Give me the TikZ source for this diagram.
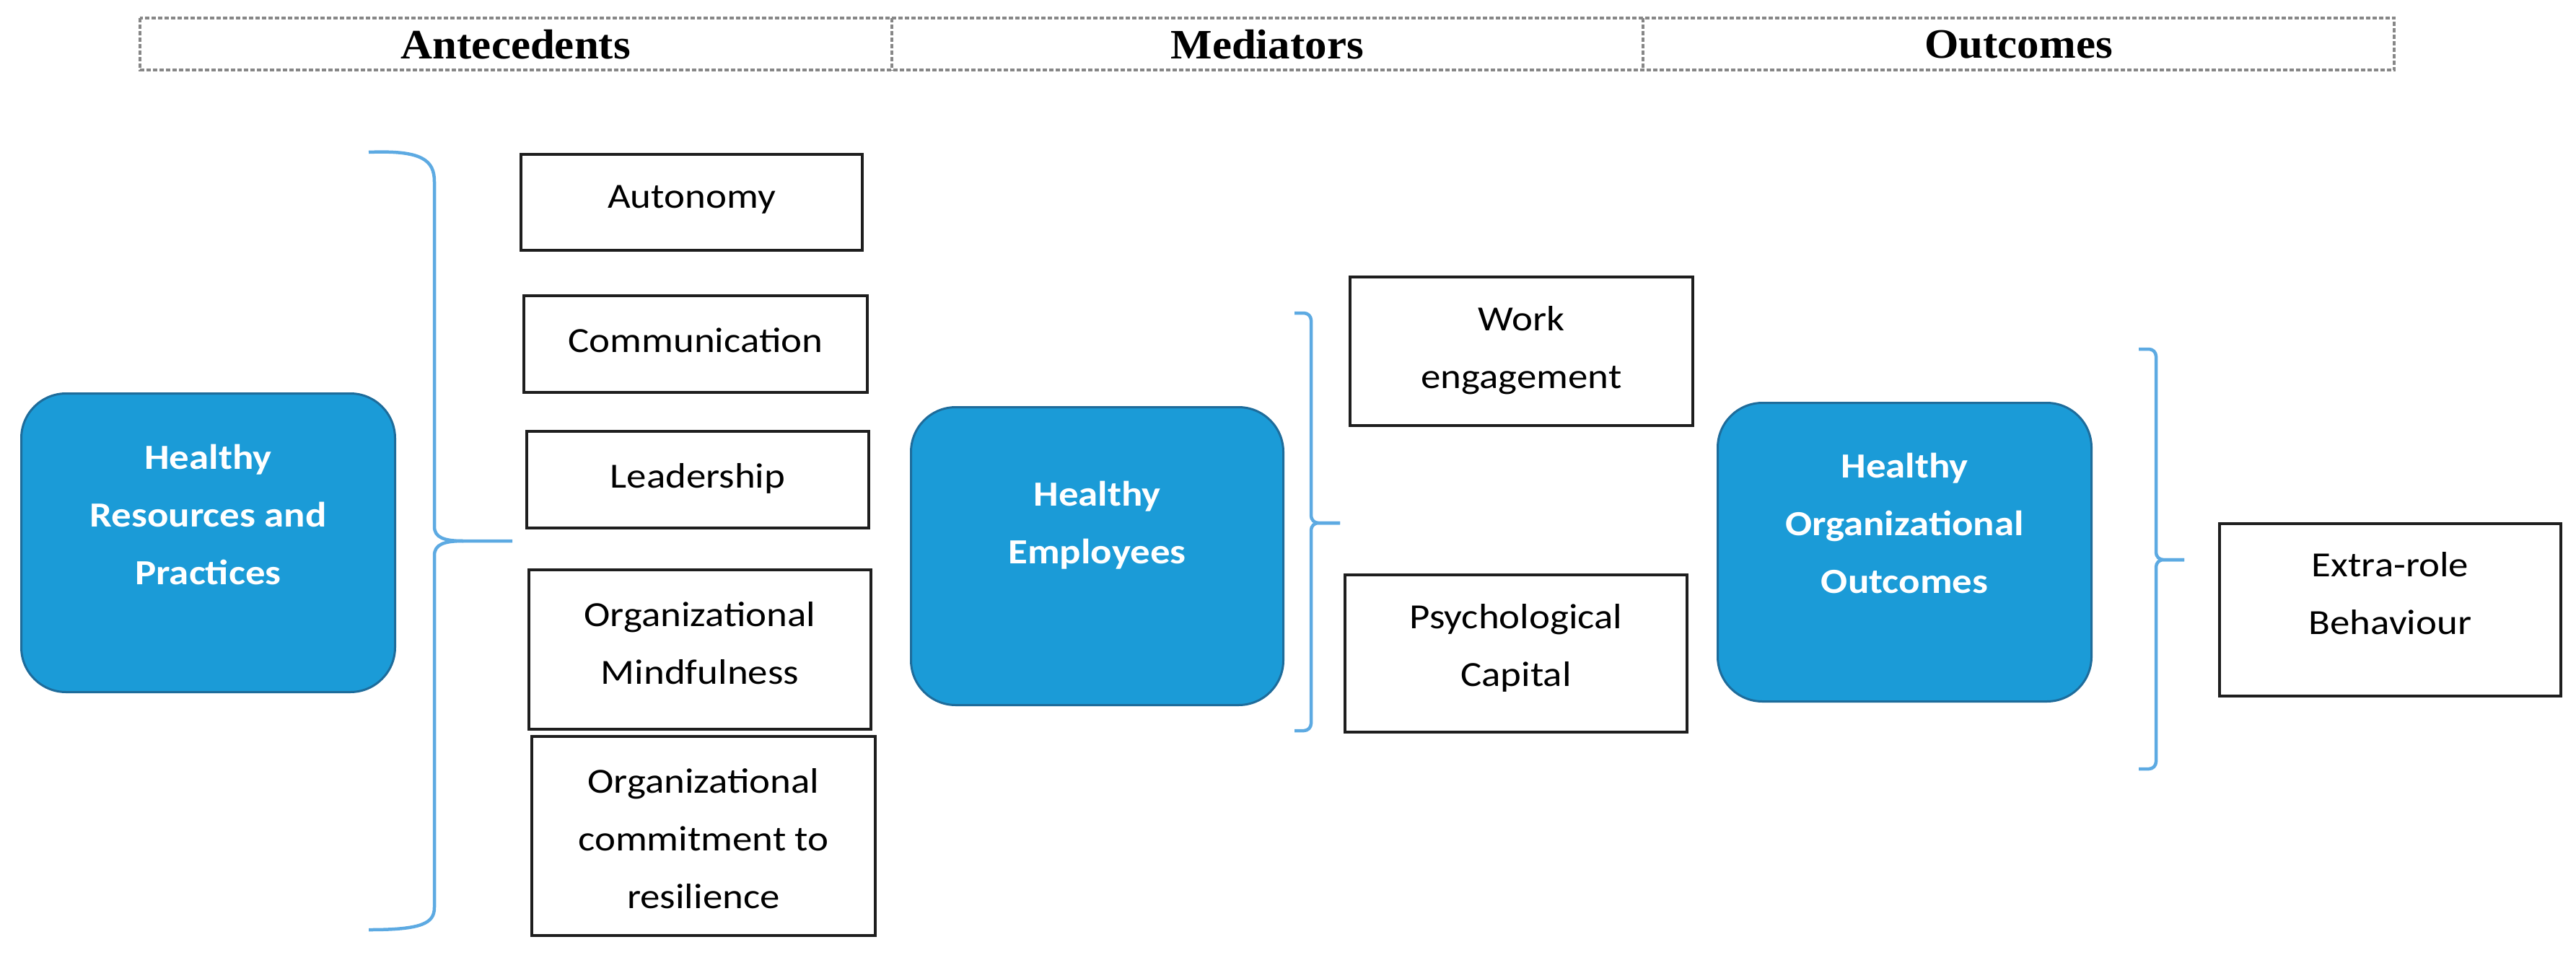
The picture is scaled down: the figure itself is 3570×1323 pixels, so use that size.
\documentclass[tikz,border=0pt]{standalone}
\usepackage{fontspec}
\setmainfont{Carlito}[FakeStretch=1.12]
\newfontfamily\hdrfont{Liberation Serif}[FakeStretch=1.05]
\definecolor{blueFill}{RGB}{27,155,215}
\definecolor{blueEdge}{RGB}{30,108,155}
\definecolor{braceCol}{RGB}{93,170,226}
\definecolor{hdrGray}{RGB}{135,135,135}
\definecolor{boxBlack}{RGB}{30,30,30}
\newcommand\mlines[1]{\begin{tabular}[t]{@{}c@{}}#1\end{tabular}}
\newcommand\diagfont{\fontsize{49}{80}\selectfont}
\begin{document}
\begin{tikzpicture}[x=1pt,y=-1pt,
  hcell/.style={minimum width=1041.3pt, minimum height=72pt, inner sep=0pt, anchor=north west,
    font={\hdrfont\bfseries\fontsize{58}{70}\selectfont}},
  hdash/.style={draw=hdrGray, line width=4pt, dash pattern=on 6pt off 3pt},
  tbox/.style={draw=boxBlack, line width=4pt, inner sep=0pt, anchor=north west, font=\diagfont},
  bbox/.style={draw=blueEdge, line width=3pt, fill=blueFill, rounded corners=62pt, inner sep=0pt,
    anchor=north west, text=white, font={\diagfont\bfseries}},
  bracestyle/.style={draw=braceCol, line width=4.5pt}
]
\useasboundingbox (0,0) rectangle (3570,1323);

% header
\node[hcell] (hA) at (194,25) {Antecedents};
\node[hcell] (hM) at (1235.3,25) {Mediators};
\node[hcell] (hO) at (2276.7,25) {Outcomes};
\draw[hdash] (hA.north west) rectangle (hO.south east);
\draw[hdash] (hA.north east) -- (hA.south east);
\draw[hdash] (hM.north east) -- (hM.south east);

% blue boxes
\node[bbox, minimum width=518pt, text height=105pt, text depth=309pt] (hrp) at (28,544)
  {\mlines{Healthy\\Resources and\\Practices}};
\node[bbox, minimum width=516pt, text height=137pt, text depth=276pt] (he) at (1261,563)
  {\mlines{Healthy\\Employees}};
\node[bbox, minimum width=518pt, text height=104pt, text depth=310pt] (hoo) at (2379,557)
  {\mlines{Healthy\\Organizational\\Outcomes}};

% antecedent boxes
\node[tbox, minimum width=473pt, text height=74pt, text depth=59pt] (aut) at (720,212) {Autonomy};
\node[tbox, minimum width=476pt, text height=78pt, text depth=56pt] (com) at (724,408) {Communication};
\node[tbox, minimum width=474pt, text height=78pt, text depth=56pt] (lea) at (728,596) {Leadership};
\node[tbox, minimum width=474pt, text height=78pt, text depth=143pt] (mind) at (731,788)
  {\mlines{Organizational\\Mindfulness}};
\node[tbox, minimum width=476pt, text height=78pt, text depth=198pt] (res) at (735,1019)
  {\mlines{Organizational\\commitment to\\resilience}};

% mediator boxes
\node[tbox, minimum width=475pt, text height=74pt, text depth=132pt] (work) at (1869,382)
  {\mlines{Work\\engagement}};
\node[tbox, minimum width=474pt, text height=74pt, text depth=144pt] (psy) at (1862,795)
  {\mlines{Psychological\\Capital}};

% outcome box
\node[tbox, minimum width=473pt, text height=73pt, text depth=166pt] (extra) at (3074,724)
  {\mlines{Extra-role\\Behaviour}};

% braces
\draw[bracestyle] (511,211) .. controls (585,208) and (602,222) .. (602,252) -- (602,730)
  .. controls (602,745) and (615,750) .. (642,750) -- (710,750);
\draw[bracestyle] (642,750) .. controls (615,750) and (602,755) .. (602,770) -- (602,1258)
  .. controls (602,1280) and (585,1289) .. (511,1289);

\draw[bracestyle, rounded corners=10pt] (1794,434) -- (1817,434) -- (1817,725) -- (1857,725);
\draw[bracestyle, rounded corners=10pt] (1857,725) -- (1817,725) -- (1817,1013) -- (1794,1013);

\draw[bracestyle, rounded corners=10pt] (2964,484) -- (2988,484) -- (2988,776) -- (3027,776);
\draw[bracestyle, rounded corners=10pt] (3027,776) -- (2988,776) -- (2988,1066) -- (2964,1066);
\end{tikzpicture}
\end{document}
